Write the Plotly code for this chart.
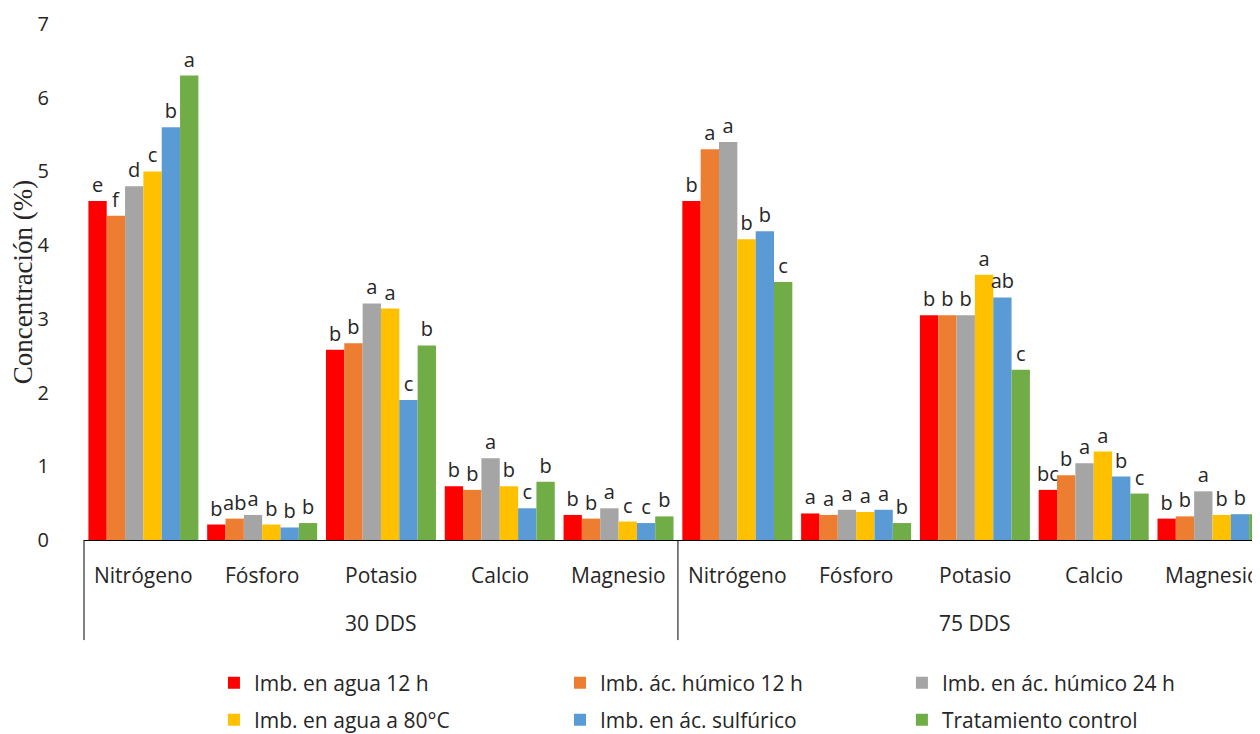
import plotly.graph_objects as go

groups = ["30 DDS"] * 5 + ["75 DDS"] * 5
nutrients = ["Nitrógeno", "Fósforo", "Potasio", "Calcio", "Magnesio"] * 2
group_labels = ["30 DDS", "75 DDS"]

series_names = [
    "Imb. en agua 12 h",
    "Imb. ác. húmico 12 h",
    "Imb. en ác. húmico 24 h",
    "Imb. en agua a 80°C",
    "Imb. en ác. sulfúrico",
    "Tratamiento control",
]
colors = ["#FF0000", "#ED7D31", "#A5A5A5", "#FFC000", "#5B9BD5", "#70AD47"]

agua_12h = [4.60, 0.21, 2.58, 0.73, 0.34, 4.60, 0.36, 3.05, 0.68, 0.29]
humico_12h = [4.40, 0.29, 2.67, 0.68, 0.29, 5.30, 0.34, 3.05, 0.88, 0.32]
humico_24h = [4.80, 0.34, 3.21, 1.11, 0.43, 5.40, 0.41, 3.05, 1.04, 0.66]
agua_80c = [5.00, 0.21, 3.14, 0.73, 0.25, 4.08, 0.38, 3.60, 1.20, 0.34]
sulfurico = [5.60, 0.17, 1.90, 0.43, 0.23, 4.19, 0.41, 3.29, 0.86, 0.35]
control = [6.30, 0.23, 2.64, 0.79, 0.32, 3.50, 0.23, 2.31, 0.63, 0.35]

letters_agua_12h = ["e", "b", "b", "b", "b", "b", "a", "b", "bc", "b"]
letters_humico_12h = ["f", "ab", "b", "b", "b", "a", "a", "b", "b", "b"]
letters_humico_24h = ["d", "a", "a", "a", "a", "a", "a", "b", "a", "a"]
letters_agua_80c = ["c", "b", "a", "b", "c", "b", "a", "a", "a", "b"]
letters_sulfurico = ["b", "b", "c", "c", "c", "b", "a", "ab", "b", "b"]
letters_control = ["a", "b", "b", "b", "b", "c", "b", "c", "c", "b"]

values = [agua_12h, humico_12h, humico_24h, agua_80c, sulfurico, control]
letters = [letters_agua_12h, letters_humico_12h, letters_humico_24h,
           letters_agua_80c, letters_sulfurico, letters_control]

keys = [f"{g} {n}" for g, n in zip(groups, nutrients)]

FONT = "Open Sans"
TXT = "#262626"
W, H = 1252, 726  # page body has an 8px margin

# legend positions (container fractions): columns x, rows y
leg_x = [0.1645, 0.4409, 0.714]
leg_y = [0.0702, 0.0193]

fig = go.Figure()
for i, (name, col, vals, lets) in enumerate(zip(series_names, colors, values, letters)):
    lid = "legend" if i == 0 else f"legend{i + 1}"
    fig.add_trace(go.Bar(
        x=keys, y=vals, name=name,
        marker=dict(color=col, line=dict(width=0)),
        text=lets, textposition="outside", cliponaxis=False,
        constraintext="none",
        textfont=dict(family=FONT, size=20, color=TXT),
        legend=lid,
    ))

legends = {}
for i in range(6):
    lid = "legend" if i == 0 else f"legend{i + 1}"
    legends[lid] = dict(
        x=leg_x[i % 3], y=leg_y[i // 3], xref="container", yref="container",
        xanchor="left", yanchor="middle", orientation="h",
        font=dict(family=FONT, size=21, color=TXT),
        bgcolor="rgba(0,0,0,0)", itemwidth=30,
    )

annotations = []
for k, n in zip(keys, nutrients):
    annotations.append(dict(
        x=k, xref="x", y=-0.068, yref="paper", text=n, showarrow=False,
        xanchor="center", yanchor="middle",
        font=dict(family=FONT, size=21, color=TXT),
    ))
for gi, g in enumerate(group_labels):
    annotations.append(dict(
        x=keys[gi * 5 + 2], xref="x", y=-0.161, yref="paper", text=g,
        showarrow=False, xanchor="center", yanchor="middle",
        font=dict(family=FONT, size=21, color=TXT),
    ))

shapes = [
    dict(type="line", xref="paper", x0=0, x1=0, yref="paper", y0=0, y1=-0.194,
         line=dict(color="black", width=1)),
    dict(type="line", xref="x", x0=4.5, x1=4.5, yref="paper", y0=0, y1=-0.194,
         line=dict(color="black", width=1)),
]

fig.update_layout(
    width=W, height=H,
    margin=dict(l=76, r=0, t=16, b=194),
    paper_bgcolor="white", plot_bgcolor="white",
    barmode="group", bargap=0.074, bargroupgap=0,
    font=dict(family=FONT, size=19, color=TXT),
    showlegend=True,
    annotations=annotations,
    shapes=shapes,
    xaxis=dict(
        type="category", range=[-0.5, 9.4], automargin=False,
        showline=True, linecolor="black", linewidth=1,
        ticks="", showgrid=False, showticklabels=False,
    ),
    yaxis=dict(
        range=[0, 7], dtick=1, showgrid=False, showline=False,
        zeroline=False, ticks="", ticklabelstandoff=34, automargin=False,
        tickfont=dict(family=FONT, size=20, color=TXT),
        title=dict(text="Concentración (%)", standoff=4,
                   font=dict(family="Liberation Serif, Times New Roman, serif",
                             size=27, color=TXT)),
    ),
    **legends,
)

fig.write_html("out.html")
